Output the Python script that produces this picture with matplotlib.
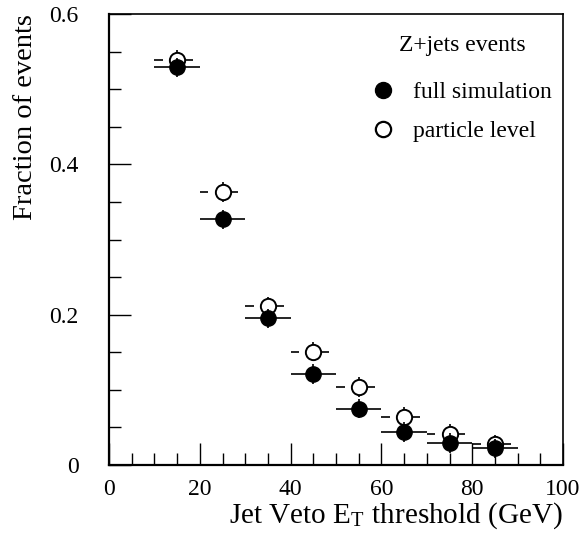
import numpy as np
import matplotlib
matplotlib.use("Agg")
import matplotlib.pyplot as plt
from matplotlib.ticker import MultipleLocator, FuncFormatter
from matplotlib.lines import Line2D

plt.rcParams["font.family"] = ["Liberation Serif", "DejaVu Serif"]
plt.rcParams["mathtext.fontset"] = "stix"

# bin centres (GeV) and fractions
threshold = np.array([15, 25, 35, 45, 55, 65, 75, 85])
full_sim = np.array([0.529, 0.327, 0.195, 0.121, 0.075, 0.044, 0.029, 0.022])
particle = np.array([0.539, 0.363, 0.211, 0.151, 0.104, 0.064, 0.041, 0.0275])
full_xerr = np.full(8, 5.0)
part_xerr_lo = np.full(8, 5.0)
part_xerr_hi = np.full(8, 3.5)
full_yerr = np.full(8, 0.013)
part_yerr = np.full(8, 0.013)

fig = plt.figure(figsize=(5.83, 5.43), dpi=100)
ax = fig.add_axes([0.187, 0.1436, 0.7787, 0.8304])

# particle level: left part of the x bar is drawn with a small gap before the marker
ax.hlines(particle, threshold - part_xerr_lo, threshold - 3.1, color="black", lw=1.2, zorder=2)
ax.errorbar(threshold, particle, xerr=[np.zeros(8), part_xerr_hi], yerr=part_yerr,
            fmt="o", ms=11, mfc="white", mec="black", mew=1.4,
            ecolor="black", elinewidth=1.2, capsize=0, zorder=2)
ax.errorbar(threshold, full_sim, xerr=full_xerr, yerr=full_yerr,
            fmt="o", ms=11, mfc="black", mec="black",
            ecolor="black", elinewidth=1.2, capsize=0, zorder=3)

ax.set_xlim(0, 100)
ax.set_ylim(0, 0.6)
ax.xaxis.set_major_locator(MultipleLocator(20))
ax.xaxis.set_minor_locator(MultipleLocator(5))
ax.yaxis.set_major_locator(MultipleLocator(0.2))
ax.yaxis.set_minor_locator(MultipleLocator(0.05))
ax.xaxis.set_major_formatter(FuncFormatter(lambda v, p: f"{v:g}"))
ax.yaxis.set_major_formatter(FuncFormatter(lambda v, p: "0" if abs(v) < 1e-9 else f"{v:.1f}"))
ax.tick_params(which="both", direction="in", top=False, right=False, labelsize=17, width=1.0)
ax.tick_params(which="major", length=16)
ax.tick_params(which="minor", length=8.5)
ax.tick_params(axis="y", pad=22)
ax.tick_params(axis="x", pad=10)
for s in ax.spines.values():
    s.set_linewidth(1.2)
ax.spines["left"].set_linewidth(1.6)
ax.spines["bottom"].set_linewidth(1.6)

ax.set_xlabel("Jet Veto E$_\\mathregular{T}$ threshold (GeV)", fontsize=21, ha="right")
ax.xaxis.set_label_coords(1.0, -0.079)
ax.set_ylabel("Fraction of events", fontsize=20.5, ha="right")
ax.yaxis.set_label_coords(-0.156, 1.0)

ax.text(0.7786, 0.931, "Z+jets events", transform=ax.transAxes, ha="center", va="center", fontsize=17)
handles = [Line2D([], [], ls="none", marker="o", ms=11.5, mfc="black", mec="black"),
           Line2D([], [], ls="none", marker="o", ms=11, mfc="white", mec="black", mew=1.6)]
ax.legend(handles, ["full simulation", "particle level"], frameon=False,
          loc="upper left", bbox_to_anchor=(0.5775, 0.851), borderpad=0, borderaxespad=0,
          fontsize=17, handletextpad=0.77, handlelength=1.0, labelspacing=0.75)

fig.savefig("out.png", dpi=100)
